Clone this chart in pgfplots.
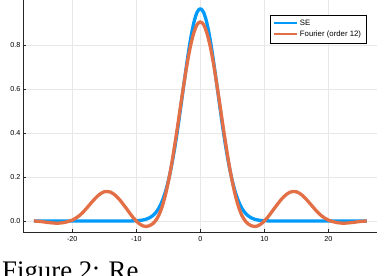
\documentclass[border=0pt]{standalone}
\usepackage{pgfplots}
\pgfplotsset{compat=1.18}
\usepackage{fontspec}
\setmainfont{Liberation Sans}
\newfontfamily\capfont{Liberation Serif}
\definecolor{seblue}{RGB}{0,154,250}
\definecolor{fourorange}{RGB}{227,111,71}
\begin{document}
\begin{tikzpicture}[x=1pt,y=1pt]
\useasboundingbox (0,0) rectangle (384,276);
\begin{axis}[
  at={(23pt,44pt)}, anchor=south west,
  scale only axis, width=354pt, height=232pt,
  xmin=-27.7, xmax=27.6, ymin=-0.05, ymax=1.0045,
  axis x line*=bottom, axis y line*=left,
  axis line style={-, black!85, line width=0.8pt},
  xtick={-20,-10,0,10,20}, ytick={0,0.2,0.4,0.6,0.8},
  grid=major, major grid style={black!9, line width=0.5pt},
  tick align=inside, major tick length=3pt,
  tick style={black!85, line width=0.6pt},
  tick label style={font=\fontsize{7.2}{8}\selectfont},
  /pgf/number format/assume math mode=true,
  yticklabel style={/pgf/number format/fixed, /pgf/number format/fixed zerofill, /pgf/number format/precision=1, xshift=1pt},
  xticklabel style={yshift=-1pt},
  legend style={at={(0.970,0.937)}, anchor=north east, draw=black, line width=0.6pt,
    font=\fontsize{7.8}{8.5}\selectfont, inner xsep=3pt, inner ysep=3pt, row sep=0pt,
    cells={anchor=west}},
  legend image code/.code={\draw[#1, line width=2pt] (0pt,0pt) -- (23pt,0pt);},
  legend cell align=left,
]
\addplot[seblue, line width=3.3pt, line join=round, smooth] coordinates {
(-26,0) (-14,0) (-12,0.0001) (-11,0.0003) (-10,0.0012) (-9,0.0043) (-8.5,0.0078) (-8,0.0135)
(-7.5,0.0227) (-7,0.0368) (-6.5,0.0577) (-6,0.0875) (-5.5,0.128) (-5,0.182) (-4.5,0.250)
(-4,0.332) (-3.5,0.426) (-3,0.530) (-2.5,0.636) (-2,0.739) (-1.5,0.831) (-1,0.903) (-0.5,0.949)
(0,0.965)
(0.5,0.949) (1,0.903) (1.5,0.831) (2,0.739) (2.5,0.636) (3,0.530) (3.5,0.426) (4,0.332)
(4.5,0.250) (5,0.182) (5.5,0.128) (6,0.0875) (6.5,0.0577) (7,0.0368) (7.5,0.0227) (8,0.0135)
(8.5,0.0078) (9,0.0043) (10,0.0012) (11,0.0003) (12,0.0001) (14,0) (26,0)
};
\addlegendentry{SE}
\addplot[fourorange, line width=3.3pt, line join=round, smooth] coordinates {
(-26,0) (-25,-0.002) (-24,-0.006) (-23,-0.009) (-22.5,-0.010) (-22,-0.0095) (-21.5,-0.008)
(-21,-0.005) (-20.5,-0.001) (-20,0.004) (-19.5,0.012) (-19,0.022) (-18.5,0.035) (-18,0.050)
(-17.5,0.067) (-17,0.084) (-16.5,0.100) (-16,0.115) (-15.5,0.126) (-15,0.133) (-14.5,0.134)
(-14,0.131) (-13.5,0.122) (-13,0.109) (-12.5,0.093) (-12,0.074) (-11.5,0.055) (-11,0.035)
(-10.5,0.016) (-10,0.0) (-9.5,-0.013) (-9,-0.022) (-8.5,-0.025) (-8,-0.022) (-7.5,-0.014)
(-7,0.001) (-6.5,0.025) (-6,0.062) (-5.5,0.113) (-5,0.178) (-4.5,0.255) (-4,0.345)
(-3.5,0.440) (-3,0.540) (-2.5,0.635) (-2,0.725) (-1.5,0.800) (-1,0.857) (-0.5,0.893)
(0,0.905)
(0.5,0.893) (1,0.857) (1.5,0.800) (2,0.725) (2.5,0.635) (3,0.540) (3.5,0.440) (4,0.345)
(4.5,0.255) (5,0.178) (5.5,0.113) (6,0.062) (6.5,0.025) (7,0.001) (7.5,-0.014) (8,-0.022)
(8.5,-0.025) (9,-0.022) (9.5,-0.013) (10,0.0) (10.5,0.016) (11,0.035) (11.5,0.055)
(12,0.074) (12.5,0.093) (13,0.109) (13.5,0.122) (14,0.131) (14.5,0.134) (15,0.133)
(15.5,0.126) (16,0.115) (16.5,0.100) (17,0.084) (17.5,0.067) (18,0.050) (18.5,0.035)
(19,0.022) (19.5,0.012) (20,0.004) (20.5,-0.001) (21,-0.005) (21.5,-0.008) (22,-0.0095)
(22.5,-0.010) (23,-0.009) (24,-0.006) (25,-0.002) (26,0)
};
\addlegendentry{Fourier (order 12)}
\end{axis}
\node[anchor=base west, inner sep=0pt, font=\capfont\fontsize{26.8}{30}\selectfont] at (2,-3.7) {Figure 2: Re};
\end{tikzpicture}
\end{document}
